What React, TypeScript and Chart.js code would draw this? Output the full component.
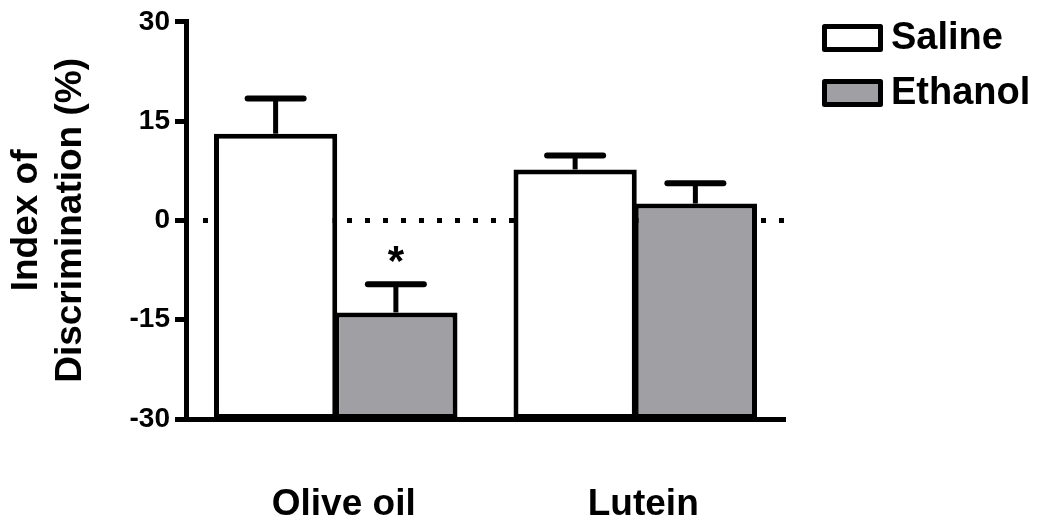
import React, { useEffect, useRef } from "react";
import { Chart, registerables } from "chart.js";

Chart.register(...registerables);

const categories = ["Olive oil", "Lutein"];
const seriesNames = ["Saline", "Ethanol"];
const salineMeans = [13.1, 7.7];
const salineSem = [5.3, 2.1];
const ethanolMeans = [-13.9, 2.55];
const ethanolSem = [4.25, 3.05];
const salineMarks = ["", ""];
const ethanolMarks = ["*", ""];
const yMin = -30;
const yMax = 30;
const yStep = 15;
const yTitle = ["Index of", "Discrimination (%)"];

const FONT = '"Liberation Sans", Arial, sans-serif';

const errorBarPlugin = {
  id: "errorBars",
  beforeDatasetsDraw(chart: any) {
    const { ctx, chartArea, scales } = chart;
    const y0 = scales.y.getPixelForValue(0);
    ctx.save();
    ctx.strokeStyle = "#000";
    ctx.lineWidth = 5;
    ctx.setLineDash([5, 13]);
    ctx.beginPath();
    ctx.moveTo(chartArea.left + 17, y0);
    ctx.lineTo(chartArea.right + 3, y0);
    ctx.stroke();
    ctx.restore();
  },
  afterDatasetsDraw(chart: any) {
    const { ctx, scales } = chart;
    const yS = scales.y;
    const sems = [salineSem, ethanolSem];
    const means = [salineMeans, ethanolMeans];
    const marks = [salineMarks, ethanolMarks];
    ctx.save();
    ctx.strokeStyle = "#000";
    ctx.fillStyle = "#000";
    chart.data.datasets.forEach((_ds: any, i: number) => {
      const meta = chart.getDatasetMeta(i);
      meta.data.forEach((el: any, j: number) => {
        const x = el.x;
        const yTop = yS.getPixelForValue(means[i][j]);
        const yCap = yS.getPixelForValue(means[i][j] + sems[i][j]);
        ctx.lineWidth = 5;
        ctx.beginPath();
        ctx.moveTo(x, yTop);
        ctx.lineTo(x, yCap);
        ctx.stroke();
        ctx.lineWidth = 6;
        ctx.lineCap = "round";
        ctx.beginPath();
        ctx.moveTo(x - 28, yCap);
        ctx.lineTo(x + 28, yCap);
        ctx.stroke();
        ctx.lineCap = "butt";
        const m = marks[i][j];
        if (m) {
          ctx.font = `bold 42px ${FONT}`;
          ctx.textAlign = "center";
          ctx.textBaseline = "alphabetic";
          ctx.fillText(m, x, yCap - 9);
        }
      });
    });
    ctx.restore();
  },
  afterDraw(chart: any) {
    const { ctx } = chart;
    ctx.save();
    chart.data.datasets.forEach((ds: any, i: number) => {
      const bx = 822;
      const by = 24 + i * 55;
      const bw = 61;
      const bh = 28;
      ctx.fillStyle = ds.backgroundColor;
      ctx.fillRect(bx + 2.5, by + 2.5, bw - 5, bh - 5);
      ctx.strokeStyle = "#000";
      ctx.lineWidth = 5;
      ctx.lineJoin = "round";
      ctx.strokeRect(bx + 2.5, by + 2.5, bw - 5, bh - 5);
      ctx.fillStyle = "#000";
      ctx.font = `bold 38px ${FONT}`;
      ctx.textAlign = "left";
      ctx.textBaseline = "middle";
      ctx.fillText(ds.label, bx + bw + 8, by + bh / 2 + 1);
    });
    ctx.restore();
  },
};

export default function App() {
  const ref = useRef<HTMLCanvasElement | null>(null);
  useEffect(() => {
    if (!ref.current) return;
    const chart = new Chart(ref.current, {
      type: "bar",
      data: {
        labels: categories,
        datasets: [
          {
            label: seriesNames[0],
            data: salineMeans.map((v) => [yMin, v]) as any,
            backgroundColor: "#ffffff",
            borderColor: "#000",
            borderWidth: 5,
            borderSkipped: false,
            categoryPercentage: 0.803,
            barPercentage: 1.025,
          },
          {
            label: seriesNames[1],
            data: ethanolMeans.map((v) => [yMin, v]) as any,
            backgroundColor: "#a09fa4",
            borderColor: "#000",
            borderWidth: 5,
            borderSkipped: false,
            categoryPercentage: 0.803,
            barPercentage: 1.025,
          },
        ],
      },
      options: {
        animation: false,
        responsive: false,
        layout: { padding: { top: 19, right: 257, left: 0, bottom: 0 } },
        plugins: { legend: { display: false }, tooltip: { enabled: false } },
        scales: {
          x: {
            z: 1,
            grid: { display: false },
            border: { display: true, color: "#000", width: 5 },
            ticks: {
              color: "#000",
              padding: 56,
              labelOffset: 8,
              font: { family: FONT, size: 37, weight: "bold" },
            },
            afterFit: (s: any) => {
              s.height = 105;
            },
          },
          y: {
            min: yMin,
            max: yMax,
            z: 1,
            ticks: {
              stepSize: yStep,
              color: "#000",
              padding: 5,
              font: { family: FONT, size: 28, weight: "bold" },
            },
            grid: {
              display: true,
              drawOnChartArea: false,
              drawTicks: true,
              tickLength: 11,
              tickWidth: 5,
              tickColor: "#000",
            },
            border: { display: true, color: "#000", width: 5 },
            title: {
              display: true,
              text: yTitle,
              color: "#000",
              padding: { top: 5, bottom: 0 },
              font: { family: FONT, size: 37, weight: "bold", lineHeight: 44 / 37 },
            },
            afterFit: (s: any) => {
              s.width = 186;
            },
          },
        },
      },
      plugins: [errorBarPlugin],
    });
    return () => chart.destroy();
  }, []);
  return (
    <div style={{ position: "absolute", left: 0, top: 0, width: 1042, height: 524, background: "#fff" }}>
      <canvas ref={ref} width={1042} height={524} />
    </div>
  );
}
